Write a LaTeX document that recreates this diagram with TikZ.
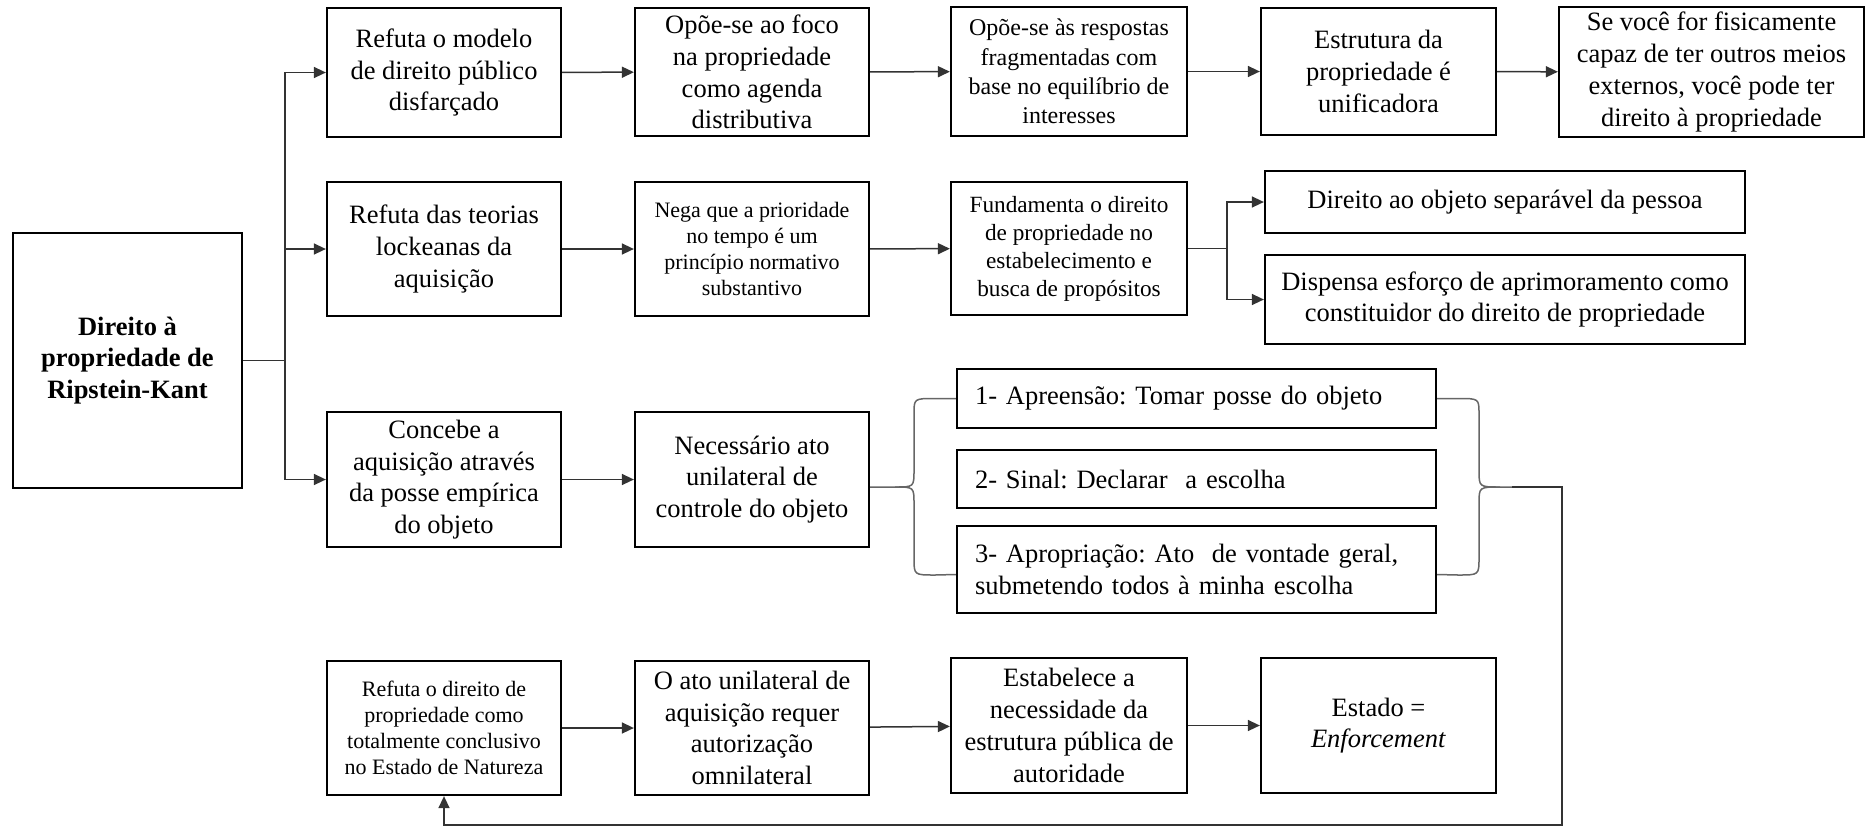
\documentclass[tikz,border=0pt]{standalone}
\usepackage{fontspec}
\setmainfont{Liberation Serif}
\usetikzlibrary{arrows.meta}
\frenchspacing

\tikzset{
  box/.style={draw, line width=0.9pt, align=center, inner sep=0pt},
  big/.style={font=\fontsize{10.6}{12.7}\selectfont},
  bigb/.style={font=\fontsize{10.6}{12.7}\selectfont\bfseries},
  mid/.style={font=\fontsize{9.6}{11.7}\selectfont},
  midb/.style={font=\fontsize{9.3}{11.2}\selectfont},
  small/.style={font=\fontsize{8.8}{10.4}\selectfont},
  item/.style={box, big, align=left, text width=177.2pt, inner xsep=7.2pt, minimum width=191.6pt},
  link/.style={line width=0.6pt, draw=black!80, -{Triangle[length=4.8pt,width=4.4pt]}},
  line/.style={line width=0.6pt, draw=black!80},
  brace/.style={line width=0.6pt, draw=black!60},
}

\begin{document}
\begin{tikzpicture}[x=0.4pt,y=-0.4pt]
   \useasboundingbox (0,0) rectangle (1866,828);

   \node[box,bigb,minimum width=91.6pt,minimum height=102pt] (kant) at (127.5,360.5) {Direito à\\propriedade de\\Ripstein-Kant};

   \node[box,big,minimum width=93.6pt,minimum height=51.6pt] (modelo) at (444,72.5) {Refuta o modelo\\de direito público\\disfarçado};
   \node[box,big,minimum width=93.6pt,minimum height=51.2pt] (foco) at (752,72) {Opõe-se ao foco\\na propriedade\\como agenda\\distributiva};
   \node[box,mid,minimum width=94.4pt,minimum height=51.6pt] (respostas) at (1069,71.5) {Opõe-se às respostas\\fragmentadas com\\base no equilíbrio de\\interesses};
   \node[box,big,minimum width=94pt,minimum height=50.8pt] (unifica) at (1378.5,71.5) {Estrutura da\\propriedade é\\unificadora};
   \node[box,big,minimum width=122pt,minimum height=52pt] (meios) at (1711.5,72) {Se você for fisicamente\\capaz de ter outros meios\\externos, você pode ter\\direito à propriedade};

   \node[box,big,minimum width=93.6pt,minimum height=53.6pt] (locke) at (444,249) {Refuta das teorias\\lockeanas da\\aquisição};
   \node[box,small,minimum width=93.6pt,minimum height=53.6pt] (prioridade) at (752,249) {Nega que a prioridade\\no tempo é um\\princípio normativo\\substantivo};
   \node[box,midb,minimum width=94.4pt,minimum height=53.2pt] (fundamenta) at (1069,248.5) {Fundamenta o direito\\de propriedade no\\estabelecimento e\\busca de propósitos};
   \node[box,big,minimum width=192pt,minimum height=24.8pt] (separavel) at (1505,202) {Direito ao objeto separável da pessoa};
   \node[box,big,minimum width=192pt,minimum height=35.6pt] (dispensa) at (1505,299.5) {Dispensa esforço de aprimoramento como\\constituidor do direito de propriedade};

   \node[box,big,minimum width=93.6pt,minimum height=54pt] (concebe) at (444,479.5) {Concebe a\\aquisição através\\da posse empírica\\do objeto};
   \node[box,big,minimum width=93.6pt,minimum height=54pt] (controle) at (752,479.5) {Necessário ato\\unilateral de\\controle do objeto};
   \node[item,minimum height=23.6pt] (apreensao) at (1196.5,398.5) {1- Apreensão: Tomar posse do objeto};
   \node[item,minimum height=23.2pt] (sinal) at (1196.5,479) {2- Sinal: Declarar\ \ a escolha};
   \node[item,minimum height=34.8pt] (apropriacao) at (1196.5,569.5) {\makebox[177.2pt][s]{3- Apropriação: Ato\ \ de vontade geral,}\\submetendo todos à minha escolha};

   \node[box,small,minimum width=93.6pt,minimum height=53.6pt] (natureza) at (444,728) {Refuta o direito de\\propriedade como\\totalmente conclusivo\\no Estado de Natureza};
   \node[box,big,minimum width=93.6pt,minimum height=53.6pt] (omnilateral) at (752,728) {O ato unilateral de\\aquisição requer\\autorização\\omnilateral};
   \node[box,big,minimum width=94.4pt,minimum height=54pt] (publica) at (1069,725.5) {Estabelece a\\necessidade da\\estrutura pública de\\autoridade};
   \node[box,big,minimum width=94pt,minimum height=54pt] (estado) at (1378.5,725.5) {Estado =\\\textit{Enforcement}};

   \coordinate (split) at (285,360.5);
   \draw[line] (kant.east) -- (split);
   \draw[link] (split) |- (modelo.west);
   \draw[link] (split) |- (locke.west);
   \draw[link] (split) |- (concebe.west);

   \draw[link] (modelo) -- (foco);
   \draw[link] (foco) -- (respostas);
   \draw[link] (respostas) -- (unifica);
   \draw[link] (unifica) -- (meios);

   \draw[link] (locke) -- (prioridade);
   \draw[link] (prioridade) -- (fundamenta);
   \coordinate (fork) at (1227,248.5);
   \draw[line] (fundamenta.east) -- (fork);
   \draw[link] (fork) |- (separavel.west);
   \draw[link] (fork) |- (dispensa.west);

   \draw[link] (concebe) -- (controle);
   \draw[brace] (apreensao.west) -- (935,398.5) .. controls (914,398.5) .. (914,414) -- (914,470) .. controls (914,487) .. (895,487) -- ([yshift=-3pt]controle.east);
   \draw[brace] (895,487) .. controls (914,487) .. (914,504) -- (914,558) .. controls (914,575) .. (935,575) -- ([yshift=-2pt]apropriacao.west);

   \coordinate (tip) at (1512,487);
   \draw[brace] (apreensao.east) -- (1458,398.5) .. controls (1479,398.5) .. (1479,414) -- (1479,470) .. controls (1479,487) .. (1500,487) -- (tip);
   \draw[brace] (1500,487) .. controls (1479,487) .. (1479,504) -- (1479,558) .. controls (1479,575) .. (1458,575) -- ([yshift=-2pt]apropriacao.east);
   \draw[link] (tip) -| (1562,825) -| (natureza.south);

   \draw[link] (natureza) -- (omnilateral);
   \draw[link] (omnilateral) -- (publica);
   \draw[link] (publica) -- (estado);
\end{tikzpicture}
\end{document}
